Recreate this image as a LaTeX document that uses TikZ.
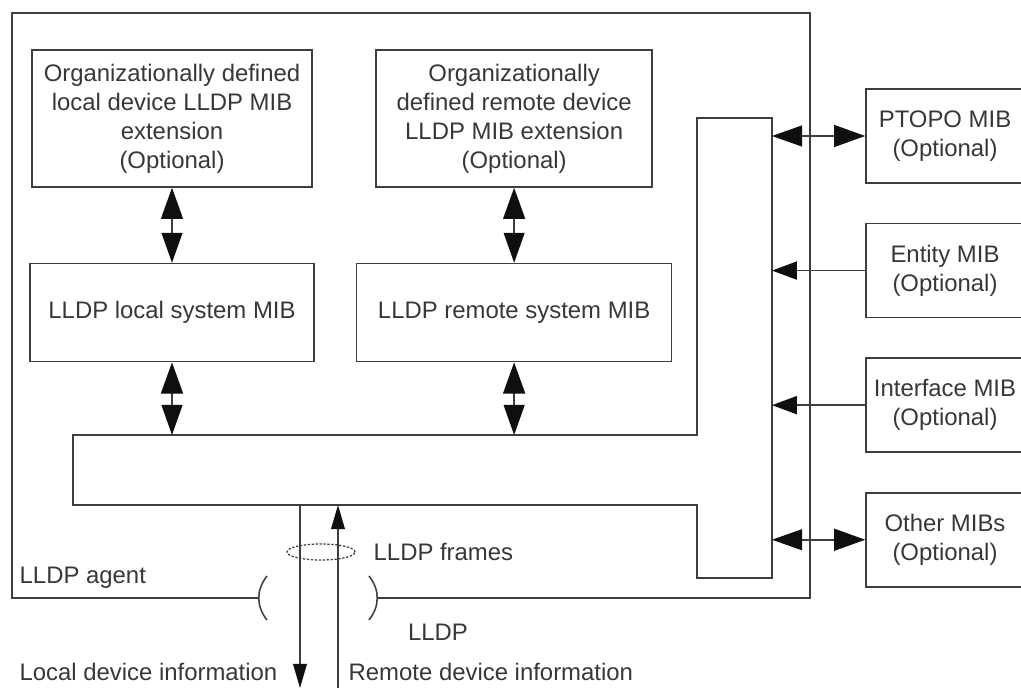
\documentclass[tikz,border=0pt]{standalone}
\usepackage{fontspec}
\setmainfont{Liberation Sans}
\usepackage{xcolor}
\usetikzlibrary{arrows.meta, positioning, shapes.geometric}
\definecolor{linegray}{RGB}{62,62,62}
\definecolor{textgray}{RGB}{55,55,55}
\definecolor{tipblack}{RGB}{15,15,15}
\tikzset{
    mibbox/.style={rectangle, draw=linegray, line width=1.1pt, minimum width=#1, align=center, text=textgray, inner sep=2pt},
    mibdarrow/.style={{Triangle[length=0.78cm,width=0.55cm,color=tipblack]}-{Triangle[length=0.75cm,width=0.52cm,color=tipblack]}, draw=linegray, line width=1.1pt},
    mibarrow/.style={-{Triangle[length=0.62cm,width=0.45cm,color=tipblack]}, draw=linegray, line width=1.1pt},
    framearrow/.style={-{Triangle[length=0.6cm,width=0.34cm,color=tipblack]}, draw=linegray, line width=1.1pt},
    busline/.style={draw=linegray, line width=1.1pt},
    miblabel/.style={text=textgray, inner sep=1pt}
}
\begin{document}
\begin{tikzpicture}[x=0.025cm, y=-0.025cm, font=\fontsize{17}{20.6}\selectfont]
\useasboundingbox (0,0) rectangle (1021,688);

% agent box, open at the port
\draw[busline] (258,598) -- (12,598) -- (12,13) -- (810,13) -- (810,598) -- (377,598);
\draw[busline] (267,576) .. controls (256,590) and (256,606) .. (267,620);
\draw[busline] (369,576) .. controls (380,590) and (380,606) .. (369,620);

% MIB blocks inside the agent
\node[mibbox=7cm, minimum height=3.425cm] (orglocal) at (172,118.5) {Organizationally defined\\local device LLDP MIB\\extension\\(Optional)};
\node[mibbox=7.1cm, minimum height=2.45cm, below=1.875cm of orglocal] (localmib) {LLDP local system MIB};
\node[mibbox=7.875cm, minimum height=2.45cm, right=1.025cm of localmib] (remotemib) {LLDP remote system MIB};
\node[mibbox=6.9cm, minimum height=3.425cm, above=1.875cm of remotemib] (orgremote) {Organizationally\\defined remote device\\LLDP MIB extension\\(Optional)};

% shared bus
\coordinate (bustop) at (73,435);
\coordinate (barright) at (772,118);
\draw[busline] (73,435) -- (697,435) -- (697,118) -- (772,118) -- (772,578) -- (697,578) -- (697,505) -- (73,505) -- cycle;

% external MIBs
\node[mibbox=3.95cm, minimum height=2.35cm] (ptopo) at (945,136) {PTOPO MIB\\(Optional)};
\node[mibbox=3.95cm, minimum height=2.35cm, below=0.975cm of ptopo] (entity) {Entity MIB\\(Optional)};
\node[mibbox=3.95cm, minimum height=2.35cm, below=0.975cm of entity] (iface) {Interface MIB\\(Optional)};
\node[mibbox=3.95cm, minimum height=2.35cm, below=0.975cm of iface] (other) {Other MIBs\\(Optional)};

\draw[mibdarrow] (orglocal) -- (localmib);
\draw[mibdarrow] (orgremote) -- (remotemib);
\draw[mibdarrow] (localmib.south) -- (localmib.south |- bustop);
\draw[mibdarrow] (remotemib.south) -- (remotemib.south |- bustop);

\draw[mibdarrow] (ptopo.west) -- (ptopo.west -| barright);
\draw[mibarrow] (entity.west) -- (entity.west -| barright);
\draw[mibarrow] (iface.west) -- (iface.west -| barright);
\draw[mibdarrow] (other.west) -- (other.west -| barright);

% frames through the port
\coordinate (txtop) at (300,505);
\coordinate (txend) at (300,688);
\coordinate (rxtop) at (338,505);
\coordinate (rxend) at (338,688);
\draw[framearrow] (txtop) -- (txend);
\draw[framearrow] (rxend) -- (rxtop);
\node[ellipse, draw=linegray, line width=0.9pt, dash pattern=on 1.6pt off 1.2pt, minimum width=1.7cm, minimum height=0.4cm, inner sep=0pt] (frameloop) at (321,552) {};

\node[miblabel, anchor=west] (framelbl) at (372,552) {LLDP frames};
\node[miblabel, anchor=west] (agentlbl) at (18,578) {LLDP agent};
\node[miblabel] (lldplbl) at (438,632) {LLDP};
\node[miblabel, anchor=east] (locallbl) at (279,672) {Local device information};
\node[miblabel, anchor=west] (remotelbl) at (347,672) {Remote device information};

\end{tikzpicture}
\end{document}
